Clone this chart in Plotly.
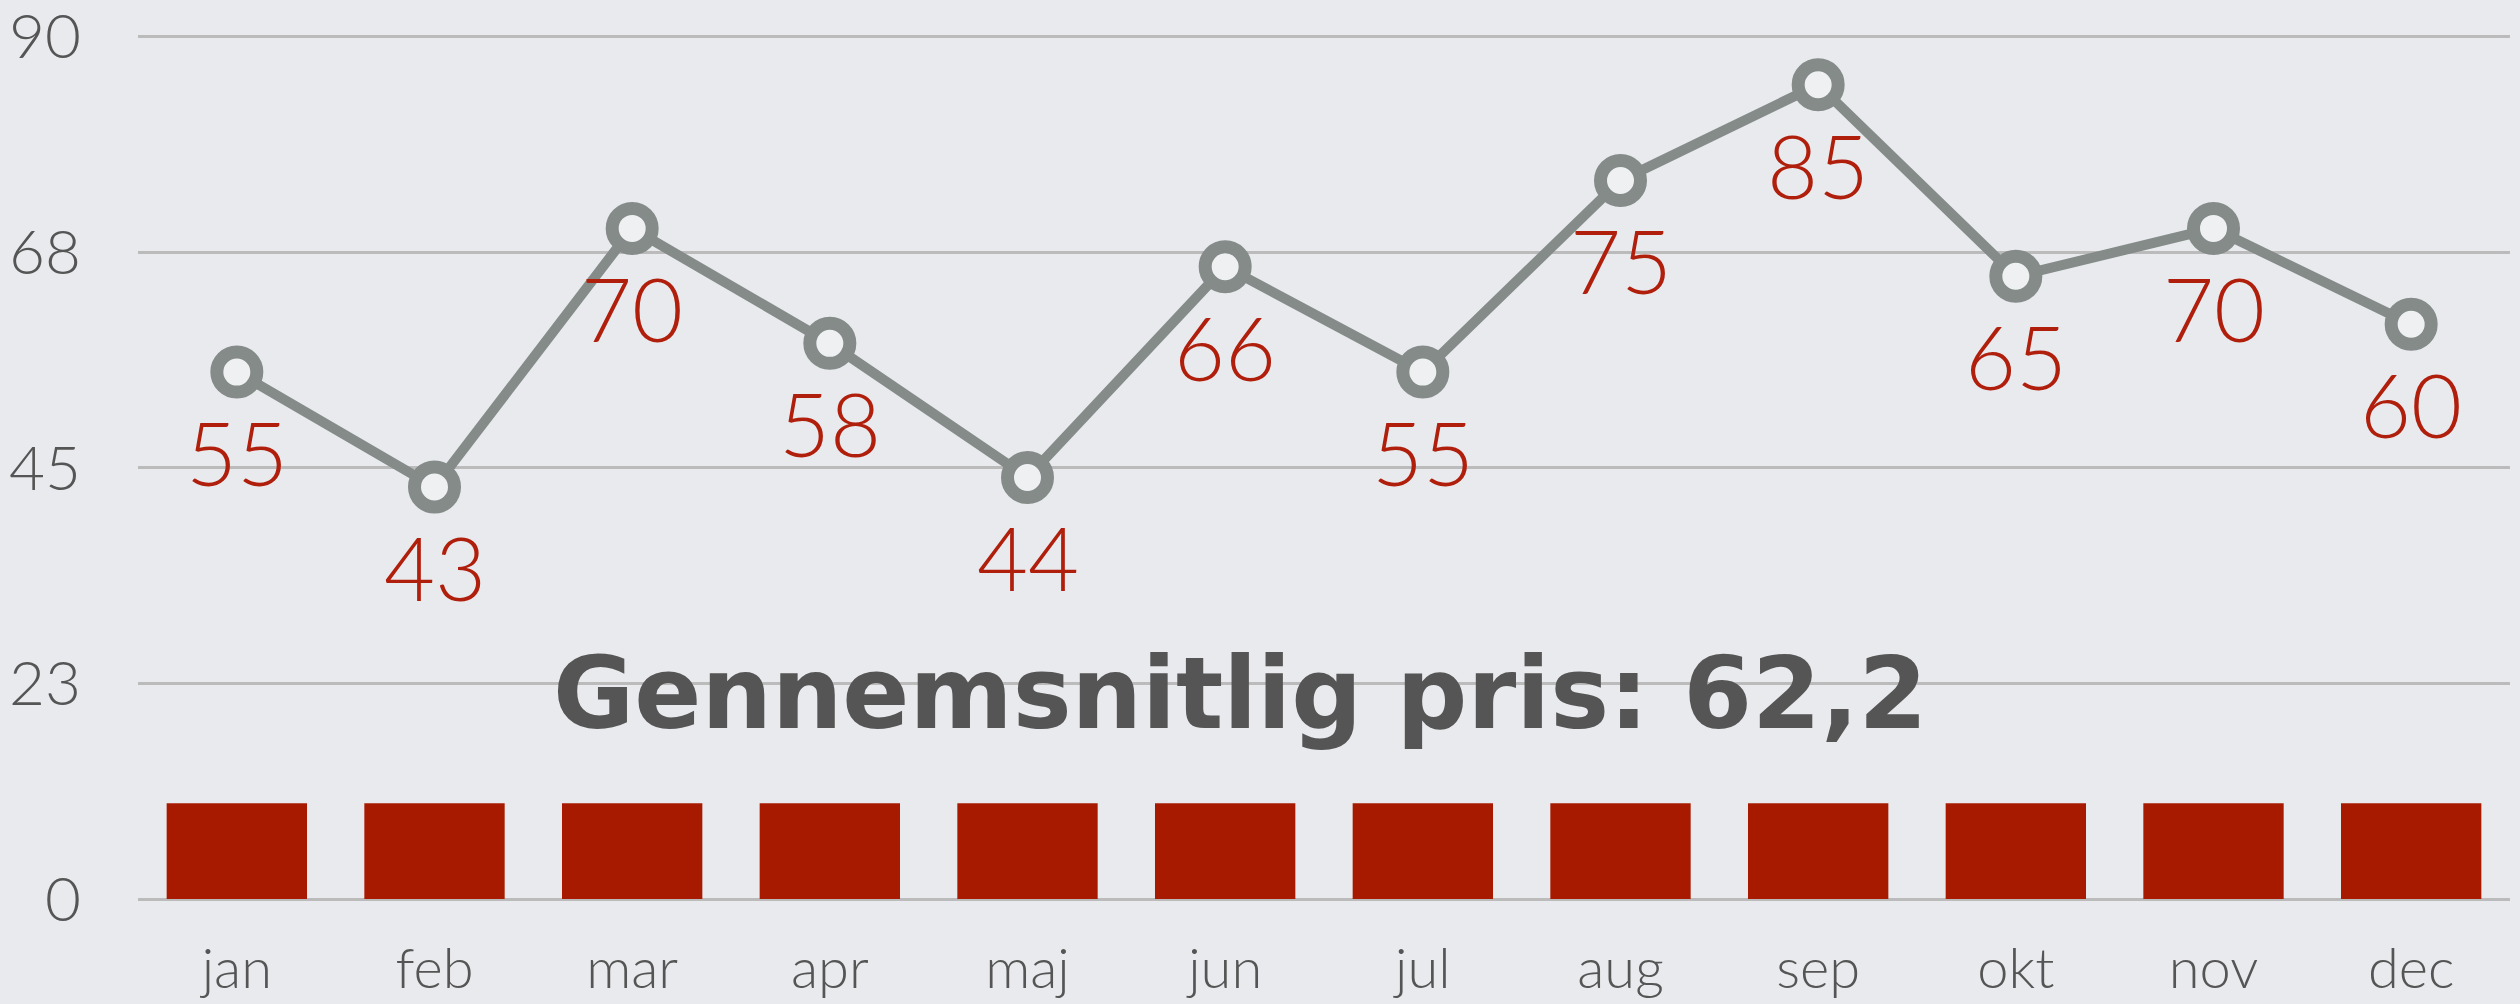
import plotly.graph_objects as go

months = ["jan", "feb", "mar", "apr", "maj", "jun", "jul", "aug", "sep", "okt", "nov", "dec"]
prices = [55, 43, 70, 58, 44, 66, 55, 75, 85, 65, 70, 60]
bar_values = [10] * 12
y_tickvals = [0, 22.5, 45, 67.5, 90]
y_ticktext = ["0", "23", "45", "68", "90"]
title_text = "Gennemsnitlig pris: 62,2"

BG = "#E8EAED"
GRAY_LINE = "#848B88"
RED_BAR = "#A81A00"
RED_TEXT = "#B01E0C"
TEXT_GRAY = "#555555"
FONT = "Lato, 'Open Sans', sans-serif"

fig = go.Figure()
fig.add_trace(go.Bar(
    x=months, y=bar_values, marker=dict(color=RED_BAR, line=dict(width=0)),
    width=0.71, hoverinfo="skip",
))
fig.add_trace(go.Scatter(
    x=months, y=prices, mode="lines+markers",
    line=dict(color=GRAY_LINE, width=10),
    marker=dict(size=40, color="#EEF0F2", line=dict(color=GRAY_LINE, width=13)),
    hoverinfo="skip", cliponaxis=False,
))

for m, v in zip(months, prices):
    fig.add_annotation(
        x=m, y=v, text=str(v), showarrow=False, yshift=-80,
        font=dict(family=FONT, size=88, color=RED_TEXT, weight=300),
    )

fig.add_annotation(
    xref="paper", yref="y", x=0.4646, y=21.5, text=f"<b>{title_text}</b>",
    showarrow=False, xanchor="center", yanchor="middle",
    font=dict(family="'DejaVu Sans', sans-serif", size=99, color=TEXT_GRAY),
)

fig.update_layout(
    width=2520, height=1004,
    margin=dict(l=138, r=10, t=32, b=105, autoexpand=False),
    paper_bgcolor=BG, plot_bgcolor=BG,
    showlegend=False, bargap=0.29,
    font=dict(family=FONT, color=TEXT_GRAY),
)
fig.update_xaxes(
    range=[-0.5, 11.5], automargin=False,
    showgrid=False, zeroline=False, showline=False, ticks="",
    tickfont=dict(size=56, color=TEXT_GRAY, family=FONT, weight=300),
    ticklabelstandoff=32, ticklabeloverflow="allow",
)
fig.update_yaxes(
    range=[0, 90.5], tickvals=y_tickvals, ticktext=y_ticktext, automargin=False,
    showgrid=True, gridcolor="#BBBBBB", gridwidth=3,
    zeroline=True, zerolinecolor="#BBBBBB", zerolinewidth=3,
    showline=False, ticks="",
    tickfont=dict(size=62, color=TEXT_GRAY, family=FONT, weight=300),
    ticklabelstandoff=56, ticklabeloverflow="allow",
)

fig.write_html("out.html")
